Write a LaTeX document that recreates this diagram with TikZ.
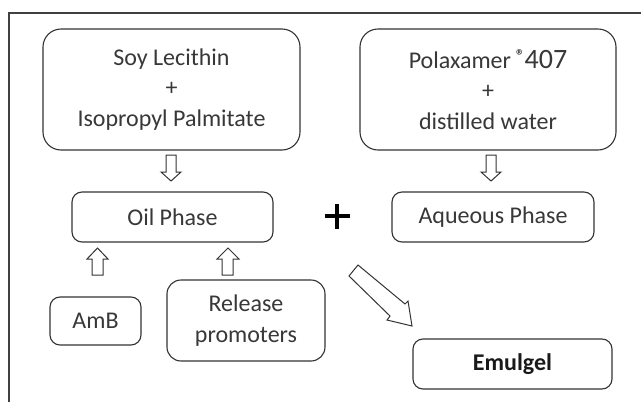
\documentclass[tikz,border=0pt]{standalone}
\usepackage{fontspec}
\setmainfont{Carlito}
\begin{document}
\begin{tikzpicture}[x=1pt,y=-1pt,
  box/.style={draw=black!80,line width=1.1pt,rounded corners=#1,fill=white,inner sep=0pt,text=black!80},
  box/.default=10pt,
  blk/.style={draw=black!80,line width=1pt,fill=white,line join=miter},
  txt/.style={font=\fontsize{24}{30.5}\selectfont,align=center,text=black!78}]
\useasboundingbox (0,0) rectangle (641,402);
\draw[black!75,line width=1.2pt] (9,402) -- (9,13) -- (641,13);
% top boxes
\node[box=18pt,minimum width=257pt,minimum height=121pt] (soy) at (171.5,89.5) {};
\node[txt] at (soy) {Soy Lecithin\\+\\Isopropyl Palmitate};
\node[box=18pt,minimum width=256pt,minimum height=121pt] (pol) at (488,89.5) {};
\node[txt] at (pol) {Polaxamer\hspace{5pt}\raisebox{7pt}{\fontsize{17}{17}\selectfont\bfseries ®}{\fontsize{28}{30}\selectfont 407}\\+\\distilled water};
% phases
\node[box,minimum width=201pt,minimum height=50pt] (oil) at (172.5,217) {};
\node[txt] at (oil) {Oil Phase};
\node[box,minimum width=202pt,minimum height=50pt] (aq) at (493,217) {};
\node[txt] at (aq) {Aqueous Phase};
\coordinate (plus) at (337,216);
\draw[black,line width=4.5pt] ([xshift=-12.5pt]plus) -- ([xshift=12.5pt]plus)
  ([yshift=-12.5pt]plus) -- ([yshift=12.5pt]plus);
% lower boxes
\node[box,minimum width=91pt,minimum height=48pt] (amb) at (95.5,321) {};
\node[txt] at (amb) {AmB};
\node[box=14pt,minimum width=158pt,minimum height=81pt] (rel) at (246,320.5) {};
\node[txt,font=\fontsize{24}{31}\selectfont] at (rel) {Release\\promoters};
\node[box,minimum width=199pt,minimum height=50pt] (emu) at (512.5,364) {};
\node[txt,font=\fontsize{24}{30}\selectfont\bfseries,text=black!90] at (emu) {Emulgel};
% block arrows
\draw[blk] (166,155) -- (176,155) -- (176,172) -- (181,172) -- (171,181) -- (161,172) -- (166,172) -- cycle;
\draw[blk] (486,155) -- (496,155) -- (496,172) -- (501,172) -- (491,181) -- (481,172) -- (486,172) -- cycle;
\draw[blk] (92,275) -- (103,275) -- (103,259) -- (108,259) -- (97.5,248) -- (87,259) -- (92,259) -- cycle;
\draw[blk] (222,275) -- (233,275) -- (233,259) -- (239,259) -- (228,248) -- (217,259) -- (222,259) -- cycle;
\draw[blk] (349,276) -- (358,265) -- (405,304) -- (408,301) -- (412,326) -- (387,320) -- (390,316) -- cycle;
\end{tikzpicture}
\end{document}
